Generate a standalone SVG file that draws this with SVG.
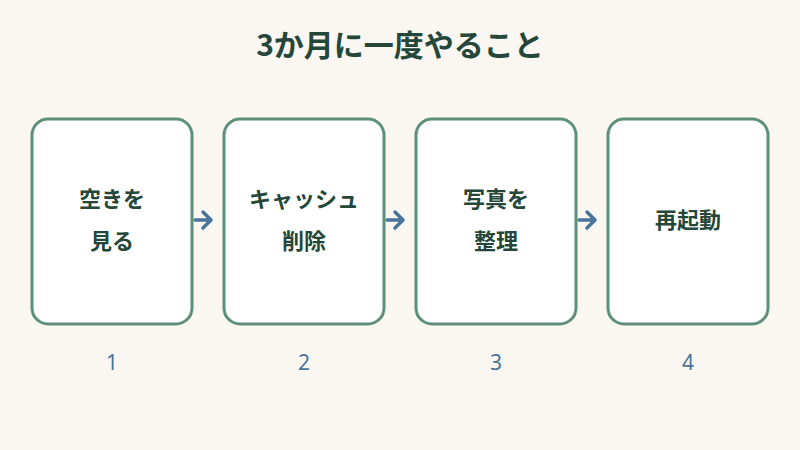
<svg xmlns="http://www.w3.org/2000/svg" width="800" height="450" viewBox="0 0 800 450">
<style>
.box{fill:#fff;stroke:#5e8f7a;stroke-width:3}
.t{font-family:"Noto Sans CJK JP",sans-serif;font-weight:bold;font-size:22px;fill:#24473a;text-anchor:middle}
.n{font-family:"Noto Sans","Liberation Sans",sans-serif;font-size:21px;fill:#4a7598;text-anchor:middle}
.a{fill:none;stroke:#4a7598;stroke-width:3.5;stroke-linecap:round;stroke-linejoin:round}
</style>
<rect width="800" height="450" fill="#faf7f2"/>
<text x="400" y="56" text-anchor="middle" font-family="Noto Sans CJK JP,sans-serif" font-weight="bold" font-size="30" fill="#24473a">3か月に一度やること</text>
<g id="connectors">
<path class="a" d="M195 220H210M203 212L211 220L203 228"/>
<path class="a" d="M387 220H402M395 212L403 220L395 228"/>
<path class="a" d="M579 220H594M587 212L595 220L587 228"/>
</g>
<g id="n1"><rect class="box" x="32" y="119" width="160" height="205" rx="16"/><text class="t" x="112" y="207">空きを</text><text class="t" x="112" y="249">見る</text><text class="n" x="112" y="370">1</text></g>
<g id="n2"><rect class="box" x="224" y="119" width="160" height="205" rx="16"/><text class="t" x="304" y="207">キャッシュ</text><text class="t" x="304" y="249">削除</text><text class="n" x="304" y="370">2</text></g>
<g id="n3"><rect class="box" x="416" y="119" width="160" height="205" rx="16"/><text class="t" x="496" y="207">写真を</text><text class="t" x="496" y="249">整理</text><text class="n" x="496" y="370">3</text></g>
<g id="n4"><rect class="box" x="608" y="119" width="160" height="205" rx="16"/><text class="t" x="688" y="228">再起動</text><text class="n" x="688" y="370">4</text></g>
</svg>
